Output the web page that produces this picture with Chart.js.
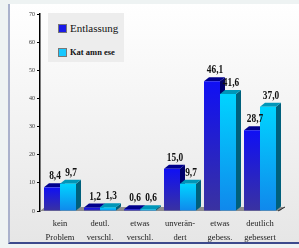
<!DOCTYPE html>
<html>
<head>
<meta charset="utf-8">
<script src="https://cdn.jsdelivr.net/npm/chart.js@4/dist/chart.umd.min.js"></script>
<style>
  html, body { margin: 0; padding: 0; }
  body { width: 299px; height: 248px; background: #eef3f3; position: relative; overflow: hidden; }
  .panel {
    position: absolute; left: 8px; top: 4px; width: 291px; height: 240px;
    background: linear-gradient(#ffffff, #e6e6e6);
    border-left: 2px solid #aab2cc; border-bottom: 2px solid #3c4a8c;
    box-sizing: border-box;
  }
  #c { position: absolute; left: 0; top: 0; }
  .legend {
    position: absolute; left: 48px; top: 13px; width: 76px; height: 49px;
    background: #ededed; font-family: "Liberation Serif", serif; color: #111;
  }
  .legend .row { position: absolute; left: 10px; display: flex; align-items: center; }
  .legend .sw { width: 9px; height: 9px; margin-right: 3px; box-sizing: border-box; border: 1px solid #777; }
</style>
</head>
<body>
<div class="panel"></div>
<canvas id="c" width="299" height="248"></canvas>
<div class="legend">
  <div class="row" style="top:9px;font-size:11px;"><span class="sw" style="background:#1a1ae8"></span>Entlassung</div>
  <div class="row" style="top:34px;font-size:8.5px;font-weight:bold;"><span class="sw" style="background:#18c8ff"></span>Kat amn ese</div>
</div>
<script>
const categories = [
  ["kein", "Problem"],
  ["deutl.", "verschl."],
  ["etwas", "verschl."],
  ["unverän-", "dert"],
  ["etwas", "gebess."],
  ["deutlich", "gebessert"],
];
const entlassung = [8.4, 1.2, 0.6, 15.0, 46.1, 28.7];
const katamnese = [9.7, 1.3, 0.6, 9.7, 41.6, 37.0];
const seriesNames = ["Entlassung", "Kat amn ese"];

const DX = 5, DY = 4;
const serif = "'Liberation Serif', serif";

// front face colours (top, bottom), side and top faces
const faces = [
  { top: "#1010f4", bottom: "#3a32a0", side: "#00006c", cap: "#00008c" },
  { top: "#00d4ff", bottom: "#1088ec", side: "#00607c", cap: "#0096b8" },
];

function frontGradient(f) {
  return (ctx) => {
    const chart = ctx.chart;
    if (!chart.chartArea || ctx.raw === undefined) return f.top;
    const y = chart.scales.y;
    const g = chart.ctx.createLinearGradient(0, y.getPixelForValue(ctx.raw), 0, y.getPixelForValue(0));
    g.addColorStop(0, f.top);
    g.addColorStop(1, f.bottom);
    return g;
  };
}

// floor plus side and top faces of the bars, drawn behind the fronts
const bars3d = {
  id: "bars3d",
  beforeDatasetsDraw(chart) {
    const { ctx, chartArea } = chart;
    ctx.save();
    const b = chartArea.bottom;
    ctx.fillStyle = "#8e8e8e";
    ctx.beginPath();
    ctx.moveTo(chartArea.left, b);
    ctx.lineTo(chartArea.right, b);
    ctx.lineTo(chartArea.right + DX, b - DY);
    ctx.lineTo(chartArea.left + DX, b - DY);
    ctx.closePath();
    ctx.fill();
    ctx.strokeStyle = "#333";
    ctx.lineWidth = 1;
    ctx.beginPath();
    ctx.moveTo(chartArea.right - 2, b);
    ctx.lineTo(chartArea.right + DX, b - DY);
    ctx.stroke();

    chart.data.datasets.forEach((ds, di) => {
      const f = faces[di];
      chart.getDatasetMeta(di).data.forEach((bar) => {
        const l = bar.x - bar.width / 2, r = bar.x + bar.width / 2;
        const t = bar.y, bt = bar.base;
        ctx.fillStyle = f.side;
        ctx.beginPath();
        ctx.moveTo(r, t);
        ctx.lineTo(r + DX, t - DY);
        ctx.lineTo(r + DX, bt - DY);
        ctx.lineTo(r, bt);
        ctx.closePath();
        ctx.fill();
        ctx.fillStyle = f.cap;
        ctx.beginPath();
        ctx.moveTo(l, t);
        ctx.lineTo(l + DX, t - DY);
        ctx.lineTo(r + DX, t - DY);
        ctx.lineTo(r, t);
        ctx.closePath();
        ctx.fill();
      });
    });
    ctx.restore();
  },
  afterDatasetsDraw(chart) {
    const { ctx } = chart;
    ctx.save();
    ctx.fillStyle = "#111";
    ctx.textAlign = "center";
    ctx.textBaseline = "alphabetic";
    ctx.font = "bold 12px " + serif;
    chart.data.datasets.forEach((ds, di) => {
      chart.getDatasetMeta(di).data.forEach((bar, i) => {
        const txt = ds.data[i].toFixed(1).replace(".", ",");
        ctx.save();
        ctx.translate(bar.x + 3, bar.y - DY - 4);
        ctx.scale(0.78, 1);
        ctx.fillText(txt, 0, 0);
        ctx.restore();
      });
    });
    ctx.restore();
  },
};

new Chart(document.getElementById("c"), {
  type: "bar",
  data: {
    labels: categories,
    datasets: [
      {
        label: seriesNames[0],
        data: entlassung,
        backgroundColor: frontGradient(faces[0]),
        borderWidth: 0,
      },
      {
        label: seriesNames[1],
        data: katamnese,
        backgroundColor: frontGradient(faces[1]),
        borderWidth: 0,
      },
    ],
  },
  options: {
    responsive: false,
    animation: false,
    events: [],
    layout: { padding: { left: 0, right: 19, top: 14, bottom: 0 } },
    datasets: { bar: { barPercentage: 1, categoryPercentage: 0.8 } },
    plugins: { legend: { display: false }, tooltip: { enabled: false } },
    scales: {
      x: {
        grid: { display: false, drawTicks: false },
        border: { display: false },
        ticks: {
          padding: 6,
          maxRotation: 0,
          autoSkip: false,
          color: "#222",
          font: { family: serif, size: 8.5, lineHeight: 1.65 },
        },
        afterFit: (s) => { s.height = 37; },
      },
      y: {
        min: 0,
        max: 70,
        grid: { drawOnChartArea: false, tickLength: 3, color: "#000", lineWidth: 1 },
        border: { color: "#000", width: 1.5 },
        ticks: {
          stepSize: 10,
          padding: 2,
          color: "#333",
          font: { family: serif, size: 6 },
        },
        afterFit: (s) => { s.width = 40; },
      },
    },
  },
  plugins: [bars3d],
});
</script>
</body>
</html>
